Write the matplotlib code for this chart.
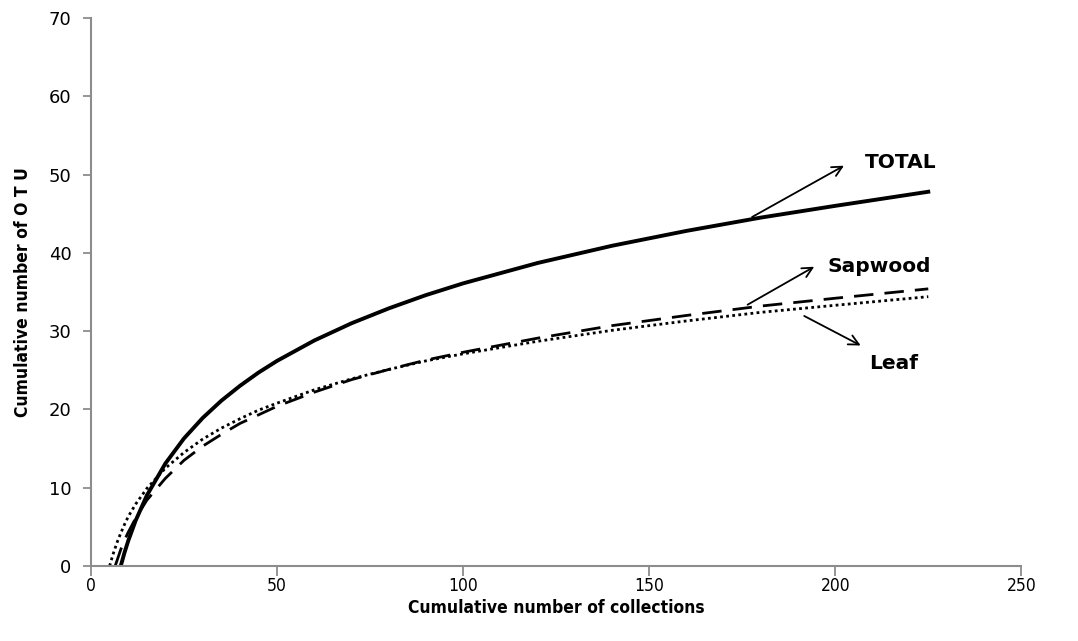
import matplotlib.pyplot as plt

# rarefaction curves
total_x = [8, 9, 10, 12, 15, 20, 25, 30, 35, 40, 45, 50, 60, 70, 80, 90, 100, 120, 140, 160, 180, 200, 225]
total_y = [0, 1.7, 3.2, 5.8, 9.0, 13.1, 16.3, 18.9, 21.1, 23.0, 24.7, 26.2, 28.8, 31.0, 32.9, 34.6, 36.1,
           38.7, 40.9, 42.8, 44.5, 46.0, 47.8]

sapwood_x = [6.5, 7, 8, 9, 10, 12, 15, 20, 25, 30, 35, 40, 45, 50, 60, 70, 80, 90, 100, 120, 140, 160, 180, 200, 225]
sapwood_y = [0, 0.7, 2.1, 3.3, 4.3, 6.1, 8.4, 11.2, 13.5, 15.3, 16.8, 18.2, 19.3, 20.4, 22.2, 23.8, 25.1,
             26.3, 27.3, 29.1, 30.7, 32.0, 33.2, 34.2, 35.4]

leaf_x = [5, 6, 7, 8, 9, 10, 12, 15, 20, 25, 30, 35, 40, 45, 50, 60, 70, 80, 90, 100, 120, 140, 160, 180, 200, 225]
leaf_y = [0, 1.6, 3.0, 4.2, 5.3, 6.3, 7.9, 9.9, 12.5, 14.5, 16.2, 17.6, 18.8, 19.9, 20.8, 22.5, 23.9, 25.1,
          26.2, 27.1, 28.7, 30.1, 31.3, 32.4, 33.3, 34.4]

xticks = [0, 50, 100, 150, 200, 250]
yticks = [0, 10, 20, 30, 40, 50, 60, 70]

fig = plt.figure(figsize=(10.78, 6.41), dpi=100)
ax = fig.add_axes([0.0844, 0.117, 0.863, 0.855])

ax.plot(leaf_x, leaf_y, color='black', lw=2.0, linestyle=(0, (1, 1.2)), solid_joinstyle='round')
ax.plot(sapwood_x, sapwood_y, color='black', lw=2.0, linestyle=(0, (7, 4)))
ax.plot(total_x, total_y, color='black', lw=2.8, solid_joinstyle='round')

arrow = dict(arrowstyle='->', color='black', lw=1.3, mutation_scale=18)
ax.annotate('', xy=(203, 51.3), xytext=(177, 44.4), arrowprops=arrow)
ax.annotate('', xy=(195, 38.4), xytext=(175.8, 33.2), arrowprops=arrow)
ax.annotate('', xy=(207.5, 28.0), xytext=(191, 32.1), arrowprops=arrow)
lab = dict(fontsize=14.5, fontweight='bold', family='DejaVu Sans', va='center', ha='left')
ax.text(208, 51.5, 'TOTAL', **lab)
ax.text(198, 38.3, 'Sapwood', **lab)
ax.text(209, 25.9, 'Leaf', **lab)

ax.set_xlim(0, 250)
ax.set_ylim(0, 70)
ax.set_xticks(xticks)
ax.set_yticks(yticks)
for s in ['top', 'right']:
    ax.spines[s].set_visible(False)
for s in ['left', 'bottom']:
    ax.spines[s].set_color('#8c8c8c')
    ax.spines[s].set_linewidth(1.5)
ax.tick_params(axis='both', direction='out', length=7, width=1.3, color='#8c8c8c')
ax.tick_params(axis='x', pad=1, labelsize=12.5)
ax.tick_params(axis='y', length=6, pad=8, labelsize=13)
for t in ax.get_xticklabels():
    t.set_fontstretch('condensed')

ax.set_xlabel('Cumulative number of collections', fontsize=12.5, fontweight='bold',
              fontstretch='condensed', labelpad=3)
ax.set_ylabel('Cumulative number of O T U', fontsize=12.5, fontweight='bold',
              fontstretch='condensed', labelpad=12)

fig.savefig('out.png', dpi=100)
